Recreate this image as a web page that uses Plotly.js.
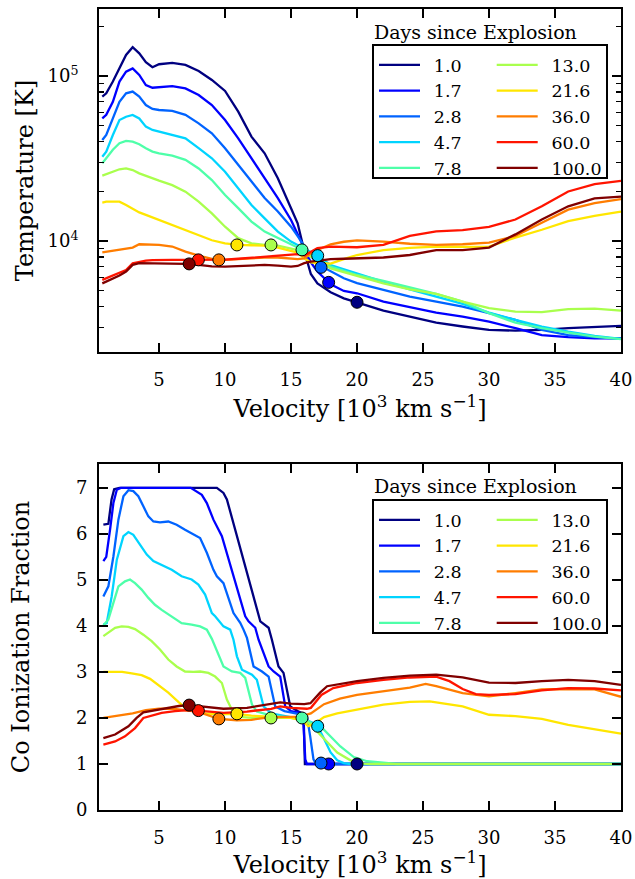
<!DOCTYPE html>
<html>
<head>
<meta charset="utf-8">
<script src="https://cdn.plot.ly/plotly-3.0.1.min.js"></script>
<style>html,body{margin:0;padding:0;background:#fff;}</style>
</head>
<body>
<div id="chart" style="width:635px;height:879px;"></div>
<script>
// ---------- data ----------
const DAYS = ['1.0', '1.7', '2.8', '4.7', '7.8', '13.0', '21.6', '36.0', '60.0', '100.0'];
const COLORS = ['#000080', '#0000ff', '#0063ff', '#00d4ff', '#4effa9', '#a9ff4d', '#ffe600', '#ff7d00', '#ff1400', '#800000'];
const X_TICKS = [5, 10, 15, 20, 25, 30, 35, 40];
const T_TICKS = [1e4, 1e5];
const T_TICKTEXT = ['10<sup>4</sup>', '10<sup>5</sup>'];
const T_MINOR = [3000, 4000, 5000, 6000, 7000, 8000, 9000, 20000, 30000, 40000, 50000, 60000, 70000, 80000, 90000, 200000];
const CO_TICKS = [0, 1, 2, 3, 4, 5, 6, 7];

// Temperature panel: common velocity grid [10^3 km/s]
const TEMP_V = [0.7, 1, 1.5, 2, 2.5, 3, 3.5, 4, 4.5, 5, 6, 7, 8, 9, 10, 11, 12, 13, 14, 15, 15.5, 16, 16.5, 17, 18, 19, 20, 22, 24, 26, 28, 30, 32, 34, 36, 38, 40];
const T_1_0 = [75000, 78500, 92500, 111200, 134000, 149300, 137100, 121100, 113000, 117800, 120000, 116700, 107200, 94600, 81100, 60800, 42900, 34000, 24000, 15800, 12800, 8710, 6310, 5530, 4890, 4490, 4250, 3780, 3480, 3200, 3030, 2890, 2860, 2890, 2960, 3000, 3060];
const T_1_7 = [55300, 58100, 69800, 92500, 106200, 111200, 101400, 88100, 84900, 85700, 86900, 84100, 76700, 66700, 54100, 41900, 31700, 24000, 18200, 13400, 11000, 9120, 7410, 6520, 5460, 4980, 4820, 4290, 3960, 3680, 3480, 3240, 2960, 2690, 2610, 2570, 2570];
const T_2_8 = [40900, 43900, 55300, 69800, 78500, 80400, 75000, 66700, 63100, 62200, 61400, 58100, 51600, 44900, 36500, 28900, 22900, 18200, 15100, 12200, 10700, 9330, 8130, 7230, 6520, 5940, 5550, 5050, 4600, 4290, 4000, 3650, 3320, 2890, 2690, 2610, 2550];
const T_4_7 = [32400, 34800, 43900, 54100, 56600, 58100, 55300, 49300, 47100, 46000, 44300, 41900, 36500, 31700, 26300, 20800, 16500, 13700, 11400, 9910, 9440, 9040, 8570, 8150, 7150, 6730, 6370, 5660, 5090, 4600, 4150, 3680, 3320, 3030, 2820, 2660, 2550];
const T_7_8 = [29600, 31700, 35700, 39100, 40400, 40000, 38600, 36500, 34800, 34000, 32900, 31000, 27500, 23400, 19000, 15800, 13100, 11400, 10400, 9460, 9120, 8770, 8320, 7850, 6980, 6590, 6220, 5720, 5240, 4780, 4290, 3650, 3200, 2960, 2780, 2630, 2540];
const T_13_0 = [24900, 25400, 26300, 27200, 27500, 26900, 25700, 24800, 24000, 23200, 21800, 19900, 17300, 14700, 12200, 10400, 9680, 9460, 9380, 9040, 8810, 8410, 8040, 7670, 6820, 6470, 6140, 5530, 5090, 4780, 4290, 3910, 3730, 3700, 3860, 3890, 3780];
const T_21_6 = [17100, 17300, 17300, 17300, 16500, 15600, 14900, 14400, 13900, 13400, 12500, 11700, 10900, 10100, 9680, 9460, 9420, 9380, 9120, 8710, 8510, 7850, 7410, 7330, 7280, 7760, 8220, 8790, 9080, 9250, 9200, 9250, 10470, 11690, 13180, 14190, 15070];
const T_36_0 = [8530, 8610, 8710, 8810, 8950, 9120, 9550, 9550, 9510, 9460, 9250, 8610, 8150, 7780, 7670, 7780, 7850, 7930, 7940, 7850, 7760, 7850, 8410, 8810, 9550, 9890, 10070, 9910, 9620, 9480, 9550, 9770, 10720, 12880, 15490, 16980, 17910];
const T_60_0 = [5810, 5940, 6170, 6370, 6670, 7330, 7500, 7600, 7650, 7670, 7670, 7670, 7670, 7670, 7710, 7800, 7930, 8040, 8150, 8300, 8320, 8150, 8610, 9040, 9250, 9200, 9160, 9460, 10720, 11430, 11640, 12160, 13490, 16220, 19950, 22130, 23120];
const T_100_0 = [5530, 5680, 5890, 6170, 6520, 7160, 7330, 7330, 7330, 7330, 7300, 7260, 7160, 7020, 6980, 7050, 7080, 7160, 7080, 6980, 7050, 7330, 7500, 7570, 7750, 7800, 7850, 7940, 8220, 8810, 8810, 9120, 10960, 13490, 16220, 18110, 18580];

// Co ionization panel: per-series velocity knots
const CO_V_1_0 = [0.78, 1.16, 1.4, 1.6, 2.0, 9.38, 9.88, 10.14, 12.67, 13.3, 13.55, 14.05, 14.43, 14.94, 15.5, 15.95, 16.05, 40];
const CO_1_0 = [6.2, 6.22, 6.75, 6.97, 7.0, 7.0, 6.89, 6.75, 4.10, 3.96, 3.70, 3.12, 2.98, 2.25, 2.15, 2.08, 1.0, 1.0];
const CO_V_1_7 = [0.78, 1.0, 1.29, 1.54, 1.8, 2.1, 7.4, 8.24, 8.62, 9.12, 9.76, 10.64, 11.53, 11.78, 12.29, 12.54, 13.3, 13.68, 14.18, 14.56, 15.0, 15.9, 16.08, 16.2, 40];
const CO_1_7 = [5.41, 5.5, 6.1, 6.67, 6.96, 7.0, 7.0, 6.85, 6.67, 6.31, 5.95, 5.08, 4.21, 4.10, 3.96, 3.70, 3.12, 3.01, 2.90, 2.25, 2.15, 2.1, 1.1, 1.0, 1.0];
const CO_V_2_8 = [0.78, 1.16, 1.54, 1.92, 2.3, 2.68, 3.05, 3.43, 3.81, 4.19, 4.57, 5.07, 5.7, 6.33, 6.97, 7.73, 8.11, 8.62, 9.12, 9.38, 9.88, 10.64, 11.15, 11.4, 11.66, 12.16, 12.8, 13.3, 13.8, 14.5, 15.5, 16.2, 16.45, 16.7, 16.9, 40];
const CO_2_8 = [4.64, 4.86, 5.51, 6.31, 6.82, 6.95, 6.93, 6.82, 6.6, 6.38, 6.27, 6.25, 6.27, 6.2, 6.09, 5.98, 5.91, 5.59, 5.22, 5.08, 4.93, 4.28, 4.07, 3.92, 3.74, 3.12, 3.01, 2.9, 2.25, 2.15, 2.1, 2.05, 1.6, 1.1, 1.0, 1.0];
const CO_V_4_7 = [0.78, 1.03, 1.41, 1.8, 2.3, 2.68, 3.05, 3.56, 4.07, 4.57, 5.2, 5.96, 6.71, 7.47, 7.98, 8.49, 9.0, 9.25, 9.88, 10.39, 10.64, 10.9, 11.28, 12.04, 12.41, 12.92, 13.5, 14.5, 15.5, 16.2, 16.6, 17.02, 17.5, 18.0, 18.5, 19.0, 19.5, 40];
const CO_4_7 = [4.03, 4.06, 4.64, 5.44, 5.95, 6.04, 5.98, 5.77, 5.55, 5.41, 5.33, 5.22, 5.08, 5.01, 4.9, 4.68, 4.28, 4.21, 3.99, 3.92, 3.70, 3.34, 3.05, 2.94, 2.83, 2.25, 2.1, 2.05, 2.0, 1.95, 1.9, 1.82, 1.55, 1.25, 1.08, 1.02, 1.0, 1.0];
const CO_V_7_8 = [0.78, 1.16, 1.54, 1.92, 2.42, 2.8, 3.18, 3.68, 4.19, 4.69, 5.2, 5.96, 6.71, 7.47, 8.11, 8.62, 9.0, 9.88, 10.52, 11.15, 11.53, 12.04, 12.41, 13.5, 14.5, 15.83, 16.5, 17.47, 18.74, 19.75, 20.76, 22, 23, 40];
const CO_7_8 = [4.01, 4.14, 4.5, 4.86, 4.97, 5.01, 4.93, 4.79, 4.61, 4.46, 4.35, 4.21, 4.06, 4.03, 3.99, 3.92, 3.72, 3.12, 3.01, 2.98, 2.87, 2.29, 2.14, 2.05, 2.02, 2.0, 1.9, 1.75, 1.38, 1.15, 1.06, 1.02, 1.0, 1.0];
const CO_V_13_0 = [0.78, 1.16, 1.67, 2.17, 2.68, 3.18, 3.81, 4.44, 5.07, 5.7, 6.33, 6.97, 7.6, 8.11, 8.74, 9.25, 9.76, 10.14, 10.52, 10.9, 12.0, 13.48, 15.0, 16.0, 16.5, 17.5, 18.5, 19.5, 20.5, 21, 40];
const CO_13_0 = [3.78, 3.85, 3.96, 3.99, 3.98, 3.93, 3.81, 3.67, 3.49, 3.27, 3.12, 3.01, 3.0, 3.01, 2.98, 2.90, 2.76, 2.40, 2.18, 2.03, 2.0, 2.0, 2.0, 1.95, 1.85, 1.55, 1.25, 1.08, 1.01, 1.0, 1.0];
const CO_V_21_6 = [0.78, 2.2, 2.93, 3.68, 4.32, 4.95, 5.7, 6.46, 7.0, 7.6, 8.5, 9.5, 10.9, 12, 13.5, 15, 15.8, 16.3, 16.8, 17.5, 18.5, 20, 22, 24, 25.5, 28, 30, 32, 34, 36, 38, 40];
const CO_21_6 = [3.0, 3.0, 2.97, 2.93, 2.85, 2.72, 2.55, 2.35, 2.22, 2.15, 2.1, 2.08, 2.09, 2.05, 2.02, 2.0, 1.95, 1.82, 1.88, 2.02, 2.1, 2.18, 2.29, 2.35, 2.36, 2.25, 2.07, 2.04, 1.98, 1.85, 1.75, 1.66];
const CO_V_36_0 = [0.78, 2.0, 3.0, 4.0, 5.0, 6.0, 7.0, 7.86, 9.53, 10.9, 12, 13.42, 15.7, 16.5, 17.5, 18.7, 20, 22, 24, 25.2, 26, 28, 30, 32, 34, 36, 38, 40];
const CO_36_0 = [2.0, 2.05, 2.1, 2.17, 2.2, 2.2, 2.17, 2.14, 1.98, 1.95, 1.96, 2.02, 2.03, 2.1, 2.3, 2.42, 2.5, 2.58, 2.66, 2.74, 2.69, 2.54, 2.47, 2.54, 2.62, 2.63, 2.62, 2.46];
const CO_V_60_0 = [0.78, 1.67, 2.42, 3.18, 3.81, 4.2, 5.2, 6.2, 7.2, 7.98, 9.88, 11.66, 13.5, 14.18, 15.0, 16.2, 16.5, 17.3, 18.2, 20, 22, 24, 26, 27, 28, 29, 30, 32, 34, 36, 38, 40];
const CO_60_0 = [1.42, 1.49, 1.6, 1.78, 2.0, 2.03, 2.11, 2.15, 2.17, 2.16, 2.11, 2.14, 2.2, 2.25, 2.22, 2.2, 2.22, 2.5, 2.65, 2.76, 2.83, 2.88, 2.9, 2.8, 2.63, 2.52, 2.5, 2.52, 2.6, 2.65, 2.64, 2.6];
const CO_V_100_0 = [0.78, 1.67, 2.68, 3.3, 3.81, 4.7, 5.7, 6.5, 7.28, 8.5, 9.88, 11.66, 13.5, 14.18, 15.0, 16.0, 16.47, 17.2, 17.73, 20, 22, 24, 26, 28, 30, 32, 34, 36, 38, 40];
const CO_100_0 = [1.56, 1.64, 1.82, 2.0, 2.12, 2.17, 2.22, 2.26, 2.28, 2.24, 2.2, 2.22, 2.3, 2.34, 2.31, 2.3, 2.32, 2.55, 2.69, 2.8, 2.87, 2.92, 2.94, 2.88, 2.77, 2.76, 2.8, 2.83, 2.8, 2.72];

// Photosphere markers (one per epoch)
const PHOT_V = [20.0, 17.85, 17.27, 17.02, 15.83, 13.48, 10.9, 9.53, 7.98, 7.28];
const PHOT_T = [4250, 5610, 6920, 8150, 8830, 9460, 9460, 7680, 7680, 7260];
const PHOT_CO = [1.0, 1.0, 1.02, 1.82, 2.0, 2.0, 2.09, 1.98, 2.16, 2.28];

const TEMP_SERIES = [T_1_0, T_1_7, T_2_8, T_4_7, T_7_8, T_13_0, T_21_6, T_36_0, T_60_0, T_100_0];
const CO_VS = [CO_V_1_0, CO_V_1_7, CO_V_2_8, CO_V_4_7, CO_V_7_8, CO_V_13_0, CO_V_21_6, CO_V_36_0, CO_V_60_0, CO_V_100_0];
const CO_SERIES = [CO_1_0, CO_1_7, CO_2_8, CO_4_7, CO_7_8, CO_13_0, CO_21_6, CO_36_0, CO_60_0, CO_100_0];

// ---------- styling ----------
const SERIF = 'DejaVu Serif, serif';
const LW = 2.3;
const traces = [];
DAYS.forEach((d, i) => {
  traces.push({
    type: 'scatter', mode: 'lines', x: TEMP_V, y: TEMP_SERIES[i], xaxis: 'x', yaxis: 'y',
    name: '\u2002' + d, line: {color: COLORS[i], width: LW},
    legend: i < 5 ? 'legend' : 'legend2', hoverinfo: 'skip'
  });
});
traces.push({
  type: 'scatter', mode: 'markers', x: PHOT_V, y: PHOT_T, xaxis: 'x', yaxis: 'y', showlegend: false,
  marker: {size: 12, color: COLORS, line: {color: '#000', width: 1}}, hoverinfo: 'skip'
});
DAYS.forEach((d, i) => {
  traces.push({
    type: 'scatter', mode: 'lines', x: CO_VS[i], y: CO_SERIES[i], xaxis: 'x2', yaxis: 'y2',
    name: '\u2002' + d, line: {color: COLORS[i], width: LW},
    legend: i < 5 ? 'legend3' : 'legend4', hoverinfo: 'skip'
  });
});
traces.push({
  type: 'scatter', mode: 'markers', x: PHOT_V, y: PHOT_CO, xaxis: 'x2', yaxis: 'y2', showlegend: false,
  marker: {size: 12, color: COLORS, line: {color: '#000', width: 1}}, hoverinfo: 'skip'
});

const AX = {
  showline: true, linecolor: '#000', linewidth: 2, mirror: 'ticks',
  ticks: 'inside', ticklen: 9, tickwidth: 1.5, tickcolor: '#000',
  showgrid: false, zeroline: false,
  tickfont: {family: SERIF, size: 18, color: '#000'}
};
const XTITLE = {text: 'Velocity [10<sup>3</sup> km s<sup>\u22121</sup>]', font: {family: SERIF, size: 24, color: '#000'}, standoff: 12};
const LEG = {
  bgcolor: 'rgba(0,0,0,0)', borderwidth: 0, xanchor: 'left', yanchor: 'top',
  font: {family: SERIF, size: 17.5, color: '#000'}, itemwidth: 41, tracegroupgap: 0
};
const paperX = px => (px - 99) / 522;
const paperY = py => (810 - py) / 801;

const layout = {
  width: 635, height: 879,
  margin: {l: 99, r: 14, t: 9, b: 69},
  paper_bgcolor: '#fff', plot_bgcolor: '#fff',
  showlegend: true,
  xaxis: Object.assign({}, AX, {domain: [0, 1], anchor: 'y', range: [0.45, 40], tickvals: X_TICKS, ticklabelstandoff: 10, title: XTITLE}),
  yaxis: Object.assign({}, AX, {
    domain: [0.5718, 1], anchor: 'x', type: 'log', range: [3.327, 5.406],
    tickvals: T_TICKS, ticktext: T_TICKTEXT, ticklabelstandoff: 15,
    minor: {ticks: 'inside', ticklen: 5, tickwidth: 1.2, tickcolor: '#000', tickvals: T_MINOR, showgrid: false},
    title: {text: 'Temperature [K]', font: {family: SERIF, size: 24, color: '#000'}, standoff: 7}
  }),
  xaxis2: Object.assign({}, AX, {domain: [0, 1], anchor: 'y2', range: [0.45, 40], tickvals: X_TICKS, ticklabelstandoff: 10, title: XTITLE}),
  yaxis2: Object.assign({}, AX, {
    domain: [0, 0.432], anchor: 'x2', range: [0, 7.52], tickvals: CO_TICKS, ticklabelstandoff: 6,
    title: {text: 'Co Ionization Fraction', font: {family: SERIF, size: 24, color: '#000'}, standoff: 40}
  }),
  legend: Object.assign({}, LEG, {x: paperX(374), y: paperY(47)}),
  legend2: Object.assign({}, LEG, {x: paperX(491.7), y: paperY(47)}),
  legend3: Object.assign({}, LEG, {x: paperX(374), y: paperY(502)}),
  legend4: Object.assign({}, LEG, {x: paperX(491.7), y: paperY(502)}),
  shapes: [
    {type: 'rect', xref: 'paper', yref: 'paper', x0: paperX(373), x1: paperX(607), y0: paperY(178), y1: paperY(45), line: {color: '#000', width: 2}, fillcolor: '#fff', layer: 'below'},
    {type: 'rect', xref: 'paper', yref: 'paper', x0: paperX(373), x1: paperX(607), y0: paperY(633), y1: paperY(500), line: {color: '#000', width: 2}, fillcolor: '#fff', layer: 'below'}
  ],
  annotations: [
    {text: 'Days since Explosion', xref: 'paper', yref: 'paper', x: paperX(475), y: paperY(31.7), xanchor: 'center', yanchor: 'middle', showarrow: false, font: {family: SERIF, size: 19, color: '#000'}},
    {text: 'Days since Explosion', xref: 'paper', yref: 'paper', x: paperX(475), y: paperY(486), xanchor: 'center', yanchor: 'middle', showarrow: false, font: {family: SERIF, size: 19, color: '#000'}}
  ]
};

Plotly.newPlot('chart', traces, layout, {staticPlot: true, displayModeBar: false});
</script>
</body>
</html>
